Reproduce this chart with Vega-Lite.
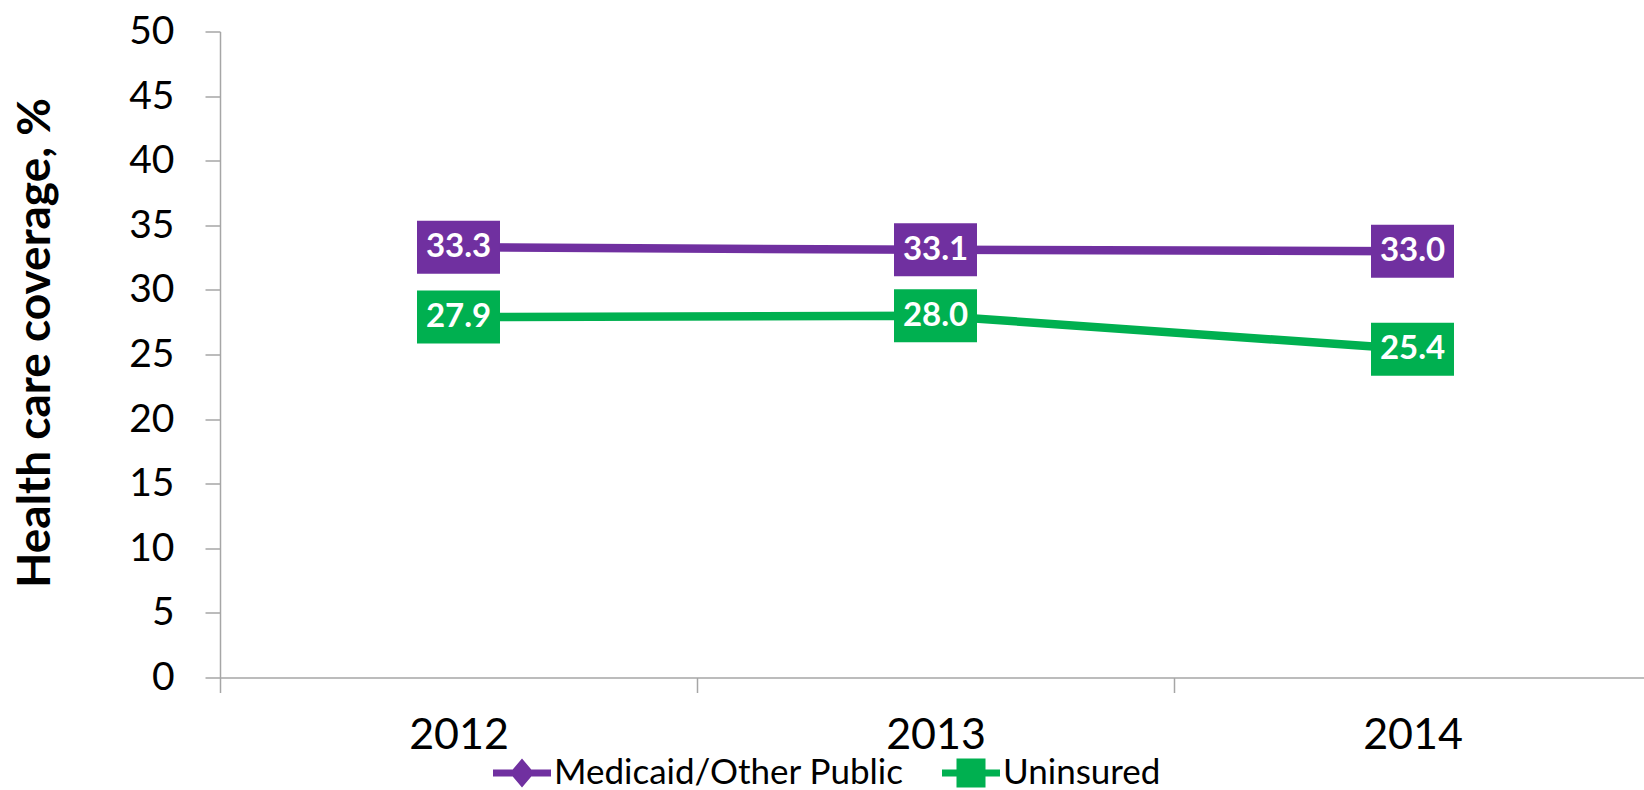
{
  "$schema": "https://vega.github.io/schema/vega-lite/v6.json",
  "width": 1424,
  "height": 646,
  "autosize": {"type": "none"},
  "padding": {"left": 220, "top": 31.5, "right": 0, "bottom": 112.5},
  "background": "white",
  "config": {
    "view": {"stroke": null},
    "font": "Lato",
    "axis": {
      "grid": false,
      "domainColor": "#A6A6A6",
      "tickColor": "#A6A6A6",
      "domainWidth": 1.5,
      "tickWidth": 1.5,
      "labelColor": "black",
      "labelFont": "Lato",
      "titleFont": "Lato",
      "titleColor": "black"
    }
  },
  "data": {
    "values": [
      {"year": "2012", "series": "Medicaid/Other Public", "value": 33.3},
      {"year": "2013", "series": "Medicaid/Other Public", "value": 33.1},
      {"year": "2014", "series": "Medicaid/Other Public", "value": 33.0},
      {"year": "2012", "series": "Uninsured", "value": 27.9},
      {"year": "2013", "series": "Uninsured", "value": 28.0},
      {"year": "2014", "series": "Uninsured", "value": 25.4}
    ]
  },
  "encoding": {
    "x": {
      "field": "year",
      "type": "ordinal",
      "bandPosition": 0.5,
      "scale": {"type": "band", "range": [0, 1431], "paddingInner": 0, "paddingOuter": 0},
      "axis": {
        "title": null,
        "labelAngle": 0,
        "labelFontSize": 43,
        "tickSize": 15,
        "tickBand": "extent",
        "labelPadding": 22
      }
    },
    "y": {
      "field": "value",
      "type": "quantitative",
      "scale": {"domain": [0, 50], "nice": false, "zero": true},
      "axis": {
        "values": [0, 5, 10, 15, 20, 25, 30, 35, 40, 45, 50],
        "labelFontSize": 39,
        "tickSize": 15,
        "labelPadding": 31,
        "title": "Health care coverage, %",
        "titleFontSize": 46,
        "titleFontWeight": "bold",
        "titleX": -185,
        "titleY": 311,
        "titleBaseline": "middle",
        "titleAngle": -90
      }
    }
  },
  "layer": [
    {
      "mark": {"type": "point", "filled": true, "opacity": 1, "size": 3364, "strokeWidth": 0},
      "encoding": {
        "color": {
          "field": "series",
          "type": "nominal",
          "scale": {"domain": ["Medicaid/Other Public", "Uninsured"], "range": ["#7030A0", "#00B050"]},
          "legend": {
            "title": null,
            "orient": "none",
            "legendX": 273,
            "legendY": 712.5,
            "direction": "horizontal",
            "labelFontSize": 35,
            "labelFont": "Lato",
            "labelColor": "black",
            "labelLimit": 0,
            "labelOffset": 3,
            "columnPadding": 38,
            "symbolSize": 3364,
            "symbolStrokeWidth": 0,
            "symbolOpacity": 1
          }
        },
        "shape": {
          "field": "series",
          "type": "nominal",
          "scale": {"domain": ["Medicaid/Other Public", "Uninsured"], "range": [
            "M-1,-0.12H-0.32L0,-0.5L0.32,-0.12H1V0.12H0.32L0,0.5L-0.32,0.12H-1Z",
            "M-1,-0.12H-0.5V-0.5H0.5V-0.12H1V0.12H0.5V0.5H-0.5V0.12H-1Z"
          ]},
          "legend": {
            "title": null,
            "orient": "none",
            "legendX": 273,
            "legendY": 712.5,
            "direction": "horizontal",
            "labelFontSize": 35,
            "labelFont": "Lato",
            "labelColor": "black",
            "labelLimit": 0,
            "labelOffset": 3,
            "columnPadding": 38,
            "symbolSize": 3364,
            "symbolStrokeWidth": 0,
            "symbolOpacity": 1
          }
        }
      }
    },
    {
      "mark": {"type": "line", "strokeWidth": 8.5},
      "encoding": {
        "color": {"field": "series", "type": "nominal", "legend": null}
      }
    },
    {
      "mark": {"type": "point", "shape": "M-1.566,-1H1.566V1H-1.566Z", "size": 2809, "filled": true, "opacity": 1, "strokeWidth": 0},
      "encoding": {
        "color": {"field": "series", "type": "nominal", "legend": null}
      }
    },
    {
      "mark": {"type": "text", "color": "white", "fontSize": 33, "fontWeight": "bold", "font": "Lato", "baseline": "middle", "align": "center"},
      "encoding": {
        "text": {"field": "value", "type": "quantitative", "format": ".1f"}
      }
    }
  ]
}
